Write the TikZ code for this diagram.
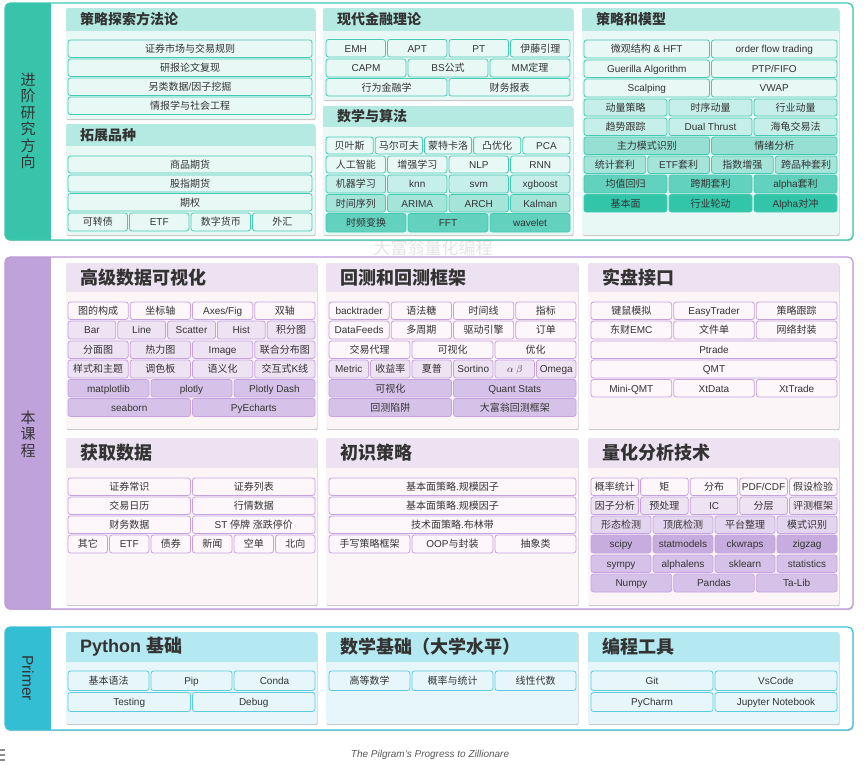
\documentclass[tikz,border=0pt]{standalone}
\usepackage{fontspec}
\setmainfont{Liberation Sans}
\newfontfamily\cjkf{Noto Sans CJK SC}
\newfontfamily\latf{Liberation Sans}
\usetikzlibrary{shadows}
% automatic switch between Latin and CJK fonts
\XeTeXinterchartokenstate=1
\newcount\cjkcnt
\cjkcnt="2E80
\loop \XeTeXcharclass\cjkcnt=7 \ifnum\cjkcnt<"9FFF \advance\cjkcnt by 1 \repeat
\cjkcnt="FF00
\loop \XeTeXcharclass\cjkcnt=7 \ifnum\cjkcnt<"FFEF \advance\cjkcnt by 1 \repeat
\XeTeXinterchartoks 0 7 = {\cjkf}
\XeTeXinterchartoks 4095 7 = {\cjkf}
\XeTeXinterchartoks 7 0 = {\latf}
\XeTeXinterchartoks 7 4095 = {\latf}

\definecolor{txt}{HTML}{333333}
% teal family
\definecolor{Tband}{HTML}{37C4AA}
\definecolor{Tborder}{HTML}{3DC8AF}
\definecolor{Thead}{HTML}{B4EAE2}
\definecolor{Tbody}{HTML}{E7F8F5}
\definecolor{Tline}{HTML}{45CAB2}
\definecolor{Tc0}{HTML}{E8F8F5}
\definecolor{Tc1}{HTML}{C5EFE8}
\definecolor{Tc2}{HTML}{A5E4D9}
\definecolor{Tc3}{HTML}{96DFD2}
\definecolor{Tc4}{HTML}{62D1BD}
\definecolor{Tc5}{HTML}{33C5AA}
% purple family
\definecolor{Pband}{HTML}{C0A2DB}
\definecolor{Pborder}{HTML}{BC9AD9}
\definecolor{Phead}{HTML}{EDE2F1}
\definecolor{Pbody}{HTML}{FCF5F8}
\definecolor{Pline}{HTML}{C6A3E0}
\definecolor{Pc0}{HTML}{FDF6FA}
\definecolor{Pc1}{HTML}{EEE3F3}
\definecolor{Pc2}{HTML}{E3D5EF}
\definecolor{Pc3}{HTML}{D6C2E8}
\definecolor{Pc4}{HTML}{C7ADDF}
% cyan family
\definecolor{Cband}{HTML}{33BED3}
\definecolor{Cborder}{HTML}{3DC1D7}
\definecolor{Chead}{HTML}{B5E9F1}
\definecolor{Cbody}{HTML}{E6F6FA}
\definecolor{Cline}{HTML}{5CCCE0}
\definecolor{Cc0}{HTML}{E6F6FA}

\tikzset{
  cellbase/.style={rectangle, rounded corners=2.5pt, line width=0.8pt, inner sep=0pt,
    text height=8.2pt, text depth=0.6pt,
    text=txt, font=\fontsize{10}{12}\selectfont},
  T0/.style={cellbase, draw=Tline, fill=Tc0},
  T1/.style={cellbase, draw=Tline, fill=Tc1},
  T2/.style={cellbase, draw=Tline, fill=Tc2},
  T3/.style={cellbase, draw=Tline, fill=Tc3},
  T4/.style={cellbase, draw=Tline, fill=Tc4},
  T5/.style={cellbase, draw=Tline, fill=Tc5},
  P0/.style={cellbase, draw=Pline, fill=Pc0},
  P1/.style={cellbase, draw=Pline, fill=Pc1},
  P2/.style={cellbase, draw=Pline, fill=Pc2},
  P3/.style={cellbase, draw=Pline, fill=Pc3},
  P4/.style={cellbase, draw=Pline, fill=Pc4},
  C0/.style={cellbase, draw=Cline, fill=Cc0},
  paneltitle/.style={anchor=west, inner sep=0pt, text=txt},
  bandlabel/.style={inner sep=0pt, text=txt, align=center},
  pshadow/.style={drop shadow={shadow xshift=0.6pt, shadow yshift=-1.2pt, fill=black, opacity=0.22}},
}

\newcounter{cellno}
% \cell{x1}{x2}{y1}{y2}{style}{text}
\newcommand\cell[6]{%
  \stepcounter{cellno}%
  \node[#5, minimum width={(#2-#1)*1pt}, minimum height={(#4-#3)*1pt}]
    (c\arabic{cellno}) at ({(#1+#2)/2},{(#3+#4)/2}) {#6};}
% \erow{L}{R}{y1}{y2}{style}{list}: equal division of a row
\newcommand\erow[6]{%
  \foreach \t [count=\n] in {#6}{\xdef\rown{\n}}%
  \pgfmathsetmacro\roww{(#2-#1-(\rown-1)*2)/\rown}%
  \foreach \t [count=\i] in {#6}{%
    \pgfmathsetmacro\xa{#1+(\i-1)*(\roww+2)}%
    \pgfmathsetmacro\xb{\xa+\roww}%
    \cell{\xa}{\xb}{#3}{#4}{#5}{\t}}}
% \panel{name}{x1}{y1}{x2}{y2}{yhead}{family}{size}{title}
\newcommand\panel[9]{%
  \fill[#7body, rounded corners=2pt, pshadow] (#2,#3) rectangle (#4,#5);
  \begin{scope}
    \clip[rounded corners=2pt] (#2,#3) rectangle (#4,#5);
    \fill[#7head] (#2,#3) rectangle (#4,#6);
  \end{scope}
  \node[paneltitle, font=\fontsize{#8}{#8}\selectfont\bfseries] (#1) at ({#2+14},{(#3+#6)/2}) {#9};}
% \sectionbox{name}{y1}{y2}{family}
\newcommand\sectionbox[4]{%
  \fill[white, rounded corners=5pt, pshadow] (5,#2) rectangle (853,#3);
  \begin{scope}
    \clip[rounded corners=5pt] (5,#2) rectangle (853,#3);
    \fill[#4band] (5,#2) rectangle (51,#3);
  \end{scope}
  \draw[#4border, line width=1.2pt, rounded corners=5pt] (5,#2) rectangle (853,#3);
  \coordinate (#1) at (5,#2);}

\begin{document}
\begin{tikzpicture}[x=1pt,y=-1pt]
\useasboundingbox (0,0) rectangle (864,765);
\fill[white] (0,0) rectangle (864,765);

% watermark
\node[text=black!10, font=\fontsize{17}{17}\selectfont, inner sep=0pt] (wm) at (433,248) {大富翁量化编程};

%================ 进阶研究方向 ================
\sectionbox{secA}{3}{240}{T}
\node[bandlabel, font=\fontsize{15}{16.5}\selectfont] (labA) at (28,121) {进\\阶\\研\\究\\方\\向};

\panel{pA}{66}{8}{315}{119}{31}{T}{14}{策略探索方法论}
\erow{68}{312}{40}{57.5}{T0}{证券市场与交易规则}
\erow{68}{312}{59}{76.5}{T0}{研报论文复现}
\erow{68}{312}{78}{95.5}{T0}{另类数据/因子挖掘}
\erow{68}{312}{97}{114.5}{T0}{情报学与社会工程}

\panel{pB}{66}{124}{315}{235}{146}{T}{14}{拓展品种}
\erow{68}{312}{156}{173}{T0}{商品期货}
\erow{68}{312}{175}{192}{T0}{股指期货}
\erow{68}{312}{193.5}{211}{T0}{期权}
\erow{68}{312}{213}{231}{T0}{可转债,ETF,数字货币,外汇}

\panel{pC}{323}{8}{573}{100}{31}{T}{14}{现代金融理论}
\erow{326}{570}{39.5}{57}{T0}{EMH,APT,PT,伊藤引理}
\erow{326}{570}{59}{77}{T0}{CAPM,BS公式,MM定理}
\erow{326}{570}{78.5}{96}{T0}{行为金融学,财务报表}

\panel{pD}{323}{106}{573}{235}{127}{T}{14}{数学与算法}
\erow{326}{570}{137}{154}{T0}{贝叶斯,马尔可夫,蒙特卡洛,凸优化,PCA}
\erow{326}{570}{156}{173}{T0}{人工智能,增强学习,NLP,RNN}
\erow{326}{570}{175}{193}{T1}{机器学习,knn,svm,xgboost}
\erow{326}{570}{194.5}{212}{T2}{时间序列,ARIMA,ARCH,Kalman}
\erow{326}{570}{213.5}{232}{T4}{时频变换,FFT,wavelet}

\panel{pE}{582}{8}{839}{235}{31}{T}{14}{策略和模型}
\erow{584}{837}{40}{58}{T0}{微观结构 \& HFT,order flow trading}
\erow{584}{837}{60}{77.5}{T0}{Guerilla Algorithm,PTP/FIFO}
\erow{584}{837}{79}{97}{T0}{Scalping,VWAP}
\erow{584}{837}{99}{116}{T1}{动量策略,时序动量,行业动量}
\erow{584}{837}{118}{135.5}{T1}{趋势跟踪,Dual Thrust,海龟交易法}
\erow{584}{837}{137}{154.5}{T3}{主力模式识别,情绪分析}
\erow{584}{837}{156}{173.5}{T2}{统计套利,ETF套利,指数增强,跨品种套利}
\erow{584}{837}{175}{193}{T4}{均值回归,跨期套利,alpha套利}
\erow{584}{837}{194.5}{212}{T5}{基本面,行业轮动,Alpha对冲}

%================ 本课程 ================
\sectionbox{secB}{257}{609}{P}
\node[bandlabel, font=\fontsize{15}{16.5}\selectfont] (labB) at (28,434) {本\\课\\程};

\panel{pF}{66}{263}{317}{429}{292}{P}{18}{高级数据可视化}
\erow{68}{315}{302}{319.5}{P0}{图的构成,坐标轴,Axes/Fig,双轴}
\erow{68}{315}{321}{339}{P1}{Bar,Line,Scatter,Hist,积分图}
\erow{68}{315}{341}{358.5}{P1}{分面图,热力图,Image,联合分布图}
\erow{68}{315}{360}{378}{P1}{样式和主题,调色板,语义化,交互式K线}
\erow{68}{315}{379.5}{397}{P3}{matplotlib,plotly,Plotly Dash}
\erow{68}{315}{398.5}{416.5}{P3}{seaborn,PyEcharts}

\panel{pG}{326}{263}{578}{429}{292}{P}{18}{回测和回测框架}
\erow{329}{576}{302}{319.5}{P0}{backtrader,语法糖,时间线,指标}
\erow{329}{576}{321}{339}{P0}{DataFeeds,多周期,驱动引擎,订单}
\erow{329}{576}{341}{358.5}{P0}{交易代理,可视化,优化}
\erow{329}{576}{360}{378}{P1}{Metric,收益率,夏普,Sortino,$\alpha\ \beta$,Omega}
\erow{329}{576}{379.5}{397}{P3}{可视化,Quant Stats}
\erow{329}{576}{398.5}{416.5}{P3}{回测陷阱,大富翁回测框架}

\panel{pH}{588}{263}{839}{429}{292}{P}{18}{实盘接口}
\erow{591}{837}{302}{319.5}{P0}{键鼠模拟,EasyTrader,策略跟踪}
\erow{591}{837}{321}{339}{P0}{东财EMC,文件单,网络封装}
\erow{591}{837}{341}{358.5}{P0}{Ptrade}
\erow{591}{837}{360}{378}{P0}{QMT}
\erow{591}{837}{379.5}{397}{P0}{Mini-QMT,XtData,XtTrade}

\panel{pI}{66}{438}{317}{605}{468}{P}{18}{获取数据}
\erow{68}{315}{478}{495.5}{P0}{证券常识,证券列表}
\erow{68}{315}{497}{514.5}{P0}{交易日历,行情数据}
\erow{68}{315}{516}{533.5}{P0}{财务数据,ST 停牌 涨跌停价}
\erow{68}{315}{535}{553}{P0}{其它,ETF,债券,新闻,空单,北向}

\panel{pJ}{326}{438}{578}{605}{468}{P}{18}{初识策略}
\erow{329}{576}{478}{495.5}{P0}{基本面策略.规模因子}
\erow{329}{576}{497}{514.5}{P0}{基本面策略.规模因子}
\erow{329}{576}{516}{533.5}{P0}{技术面策略.布林带}
\erow{329}{576}{535}{553}{P0}{手写策略框架,OOP与封装,抽象类}

\panel{pK}{588}{438}{839}{605}{468}{P}{18}{量化分析技术}
\erow{591}{837}{478}{495.5}{P0}{概率统计,矩,分布,PDF/CDF,假设检验}
\erow{591}{837}{497}{514.5}{P1}{因子分析,预处理,IC,分层,评测框架}
\erow{591}{837}{516}{533.5}{P2}{形态检测,顶底检测,平台整理,模式识别}
\erow{591}{837}{535}{553}{P4}{scipy,statmodels,ckwraps,zigzag}
\erow{591}{837}{555}{572.5}{P3}{sympy,alphalens,sklearn,statistics}
\erow{591}{837}{574}{592}{P3}{Numpy,Pandas,Ta-Lib}

%================ Primer ================
\sectionbox{secC}{627}{730}{C}
\node[bandlabel, font=\fontsize{15.5}{16}\selectfont, rotate=-90] (labC) at (28,678) {Primer};

\panel{pL}{66}{632}{317}{724}{662}{C}{18}{Python 基础}
\erow{68}{315}{671}{690.5}{C0}{基本语法,Pip,Conda}
\erow{68}{315}{692.5}{711.5}{C0}{Testing,Debug}

\panel{pM}{326}{632}{578}{724}{662}{C}{18}{数学基础（大学水平）}
\erow{329}{576}{671}{690.5}{C0}{高等数学,概率与统计,线性代数}

\panel{pN}{588}{632}{839}{724}{662}{C}{18}{编程工具}
\erow{591}{837}{671}{690.5}{C0}{Git,VsCode}
\erow{591}{837}{692.5}{711.5}{C0}{PyCharm,Jupyter Notebook}

% footer
\node[text=black!65, font=\fontsize{10}{12}\selectfont\itshape, inner sep=0pt] (foot) at (430,755) {The Pilgram's Progress to Zillionare};
% small menu icon at bottom left
\draw[black!45, line width=1.2pt] (0,750) -- (5,750) (0,755) -- (5,755) (0,760) -- (5,760);
\end{tikzpicture}
\end{document}
